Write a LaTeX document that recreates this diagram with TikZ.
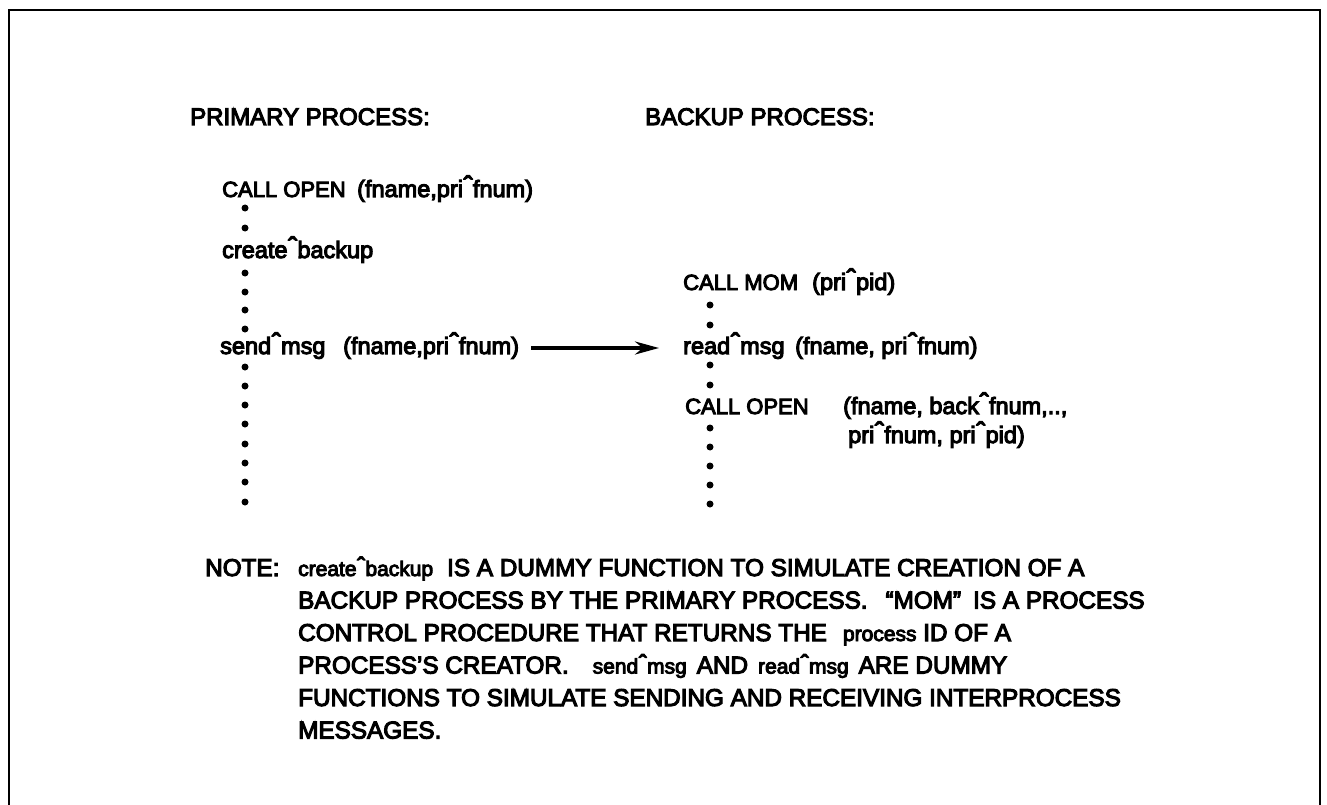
\documentclass[tikz,border=0pt]{standalone}
\usepackage{fontspec}
\setmainfont{Liberation Sans}[FakeBold=4.5]
\usetikzlibrary{arrows.meta}
\newcommand\hc{\kern0.03em\raisebox{0.08em}{\scalebox{1.15}{ˆ}}\kern0.01em}
\newcommand\lc{\fontsize{21}{24}\selectfont}
\tikzset{
  hdtxt/.style={anchor=base west, inner sep=0pt, font=\fontsize{24}{26}\selectfont},
  txt/.style={anchor=base west, inner sep=0pt, font=\fontsize{23.5}{26}\selectfont},
  captxt/.style={anchor=base west, inner sep=0pt, font=\fontsize{22}{26}\selectfont},
  notetxt/.style={anchor=base west, inner sep=0pt, font=\fontsize{24.3}{27}\selectfont},
  dotn/.style={circle, fill=black, inner sep=0pt, minimum size=7pt},
  frame/.style={line width=2pt},
  arr/.style={line width=3.5pt, -{Stealth[length=24pt,width=13pt]}}
}
\begin{document}
\begin{tikzpicture}[x=1pt,y=-1pt]
\useasboundingbox (0,0) rectangle (1327,805);
\draw[frame] (9,806) -- (9,10) -- (1320,10) -- (1320,806);
% headers
\node[hdtxt] (hp) at (190,125) {PRIMARY PROCESS:};
\node[hdtxt] (hb) at (645,125) {BACKUP PROCESS:};
% primary column
\node[captxt] (po) at (222,197) {CALL OPEN};
\node[txt] (poa) at (357,197) {(fname,pri\hc fnum)};
\node[txt] (pc) at (222,258) {create\hc backup};
\node[txt] (ps) at (220,354) {send\hc msg};
\node[txt] (psa) at (343,354) {(fname,pri\hc fnum)};
\foreach \y [count=\i] in {208,228,273,292,310,329,367,386,405,424,444,463,482,502}
  \node[dotn] (pd\i) at (245,\y) {};
% backup column
\node[captxt] (bm) at (683,290) {CALL MOM};
\node[txt] (bma) at (812,290) {(pri\hc pid)};
\node[txt] (br) at (683,354) {read\hc msg};
\node[txt] (bra) at (795,354) {(fname, pri\hc fnum)};
\node[captxt] (bo) at (685,414) {CALL OPEN};
\node[txt] (boa) at (843,414) {(fname, back\hc fnum,..,};
\node[txt] (bob) at (848,443) {pri\hc fnum, pri\hc pid)};
\foreach \y [count=\i] in {305,325,365,385,428,447,466,485,504}
  \node[dotn] (bd\i) at (710,\y) {};
% arrow
\draw[arr] ([shift={(12pt,6pt)}]psa.base east) -- ([shift={(-24pt,6pt)}]br.base west);
% note
\node[notetxt] (nt) at (205,576) {NOTE:};
\node[notetxt] (n1) at (298,576) {{\lc create\hc backup}\hspace{14pt}IS A DUMMY FUNCTION TO SIMULATE CREATION OF A};
\node[notetxt] (n2) at (298,608.5) {BACKUP PROCESS BY THE PRIMARY PROCESS.\hspace{18pt}“MOM”\hspace{12pt}IS A PROCESS};
\node[notetxt] (n3) at (298,641) {CONTROL PROCEDURE THAT RETURNS THE\hspace{16pt}{\lc process} ID OF A};
\node[notetxt] (n4) at (298,673.5) {PROCESS’S CREATOR.\hspace{24pt}{\lc send\hc msg}\hspace{10pt}AND\hspace{10pt}{\lc read\hc msg}\hspace{10pt}ARE DUMMY};
\node[notetxt] (n5) at (298,706) {FUNCTIONS TO SIMULATE SENDING AND RECEIVING INTERPROCESS};
\node[notetxt] (n6) at (298,738.5) {MESSAGES.};
\end{tikzpicture}
\end{document}
